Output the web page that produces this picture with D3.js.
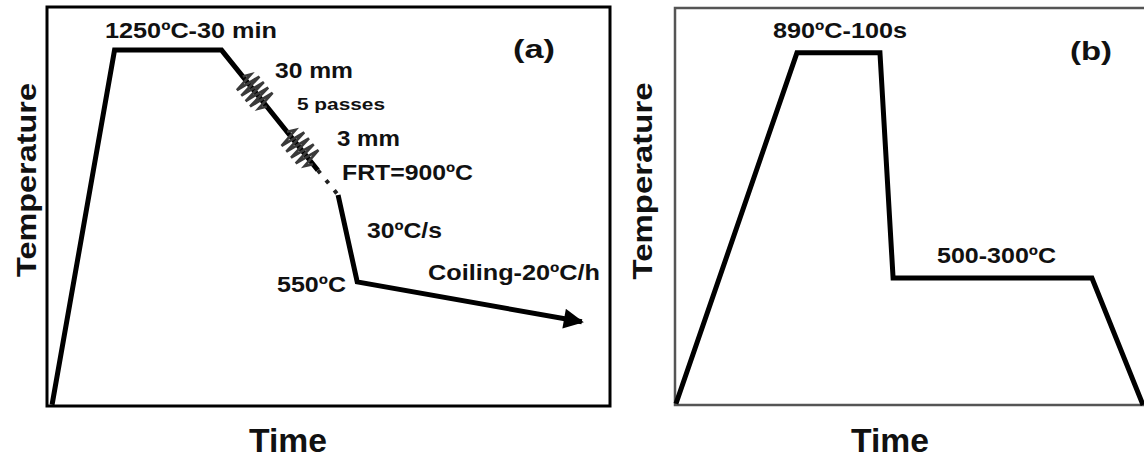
<!DOCTYPE html>
<html>
<head>
<meta charset="utf-8">
<script src="https://cdn.jsdelivr.net/npm/d3@7"></script>
<style>
  body { margin: 0; background: #fff; }
  text { font-family: "Liberation Sans", Arial, sans-serif; font-weight: bold; fill: #111; }
</style>
</head>
<body>
<svg id="chart" width="1144" height="459"></svg>
<script>
// schematic values, time and temperature both on a 0-100 scale
var heatTime  = [0.9, 12.0, 31.0, 48.1];
var heatTemp  = [0.3, 89.2, 89.2, 59.1];
var gapTime   = [48.1, 51.7];
var gapTemp   = [59.1, 52.9];
var coolTime  = [51.7, 55.1, 95.0];
var coolTemp  = [52.9, 31.1, 21.1];
var passes    = [[0.22, 0.47], [0.68, 0.95]];   // roughing / finishing blocks along the rolling line

var cycleTime = [0.2, 26.0, 43.7, 46.5, 88.9, 99.8];
var cycleTemp = [0.3, 88.7, 88.7, 32.0, 32.0, 0];

var labelsA = ["1250ºC-30 min", "30 mm", "5 passes", "3 mm", "FRT=900ºC", "30ºC/s", "550ºC", "Coiling-20ºC/h", "(a)"];
var labelsB = ["890ºC-100s", "500-300ºC", "(b)"];

var svg = d3.select("#chart");

svg.append("defs").append("marker")
    .attr("id", "arrow")
    .attr("viewBox", "0 0 10 10")
    .attr("refX", 9).attr("refY", 5)
    .attr("markerWidth", 4.2).attr("markerHeight", 4)
    .attr("orient", "auto")
    .attr("markerUnits", "strokeWidth")
    .append("path")
    .attr("d", "M0,0 L10,5 L0,10 z")
    .attr("fill", "#000");

// ---- panel (a)
var xA = d3.scaleLinear().domain([0, 100]).range([47, 610]);
var yA = d3.scaleLinear().domain([0, 100]).range([406, 7]);

svg.append("rect")
    .attr("x", xA(0)).attr("y", yA(100))
    .attr("width", xA(100) - xA(0)).attr("height", yA(0) - yA(100))
    .attr("fill", "none").attr("stroke", "#000").attr("stroke-width", 3);

var lineA = d3.line().x(function (d) { return xA(d[0]); }).y(function (d) { return yA(d[1]); });

svg.append("path")
    .datum(d3.zip(heatTime, heatTemp))
    .attr("d", lineA)
    .attr("fill", "none").attr("stroke", "#000").attr("stroke-width", 5)
    .attr("stroke-linejoin", "miter");

svg.append("path")
    .datum(d3.zip(gapTime, gapTemp))
    .attr("d", lineA)
    .attr("fill", "none").attr("stroke", "#222").attr("stroke-width", 4)
    .attr("stroke-dasharray", "4,9");

svg.append("path")
    .datum(d3.zip(coolTime, coolTemp))
    .attr("d", lineA)
    .attr("fill", "none").attr("stroke", "#000").attr("stroke-width", 5)
    .attr("stroke-linejoin", "miter")
    .attr("marker-end", "url(#arrow)");

// zigzag springs for the rolling passes
var p0 = [xA(heatTime[2]), yA(heatTemp[2])],
    p1 = [xA(heatTime[3]), yA(heatTemp[3])];
var dx = p1[0] - p0[0], dy = p1[1] - p0[1], len = Math.sqrt(dx * dx + dy * dy);
var ux = dx / len, uy = dy / len, nx = uy, ny = -ux;

passes.forEach(function (ps) {
    var teeth = 11, amp = 13, pts = [];
    for (var i = 0; i <= teeth; i++) {
        var f = ps[0] + (ps[1] - ps[0]) * i / teeth;
        var a = (i == 0 || i == teeth) ? 0 : (i % 2 ? amp : -amp);
        if (i == 1 || i == teeth - 1) a = a * 0.6;
        pts.push([p0[0] + dx * f + nx * a, p0[1] + dy * f + ny * a]);
    }
    svg.append("path")
        .attr("d", d3.line()(pts))
        .attr("fill", "none").attr("stroke", "#3a3a3a").attr("stroke-width", 2.6)
        .attr("stroke-linejoin", "miter");
});

var posA = [
    [105, 38, 22, 172], [275, 78, 22, 78], [297, 110, 16, 88], [337, 146, 22, 63],
    [342, 180, 22, 131], [367, 238, 22, 75], [277, 292, 22, 69], [428, 280, 22, 172], [513, 58, 26, 42]
];
svg.append("g").selectAll("text")
    .data(labelsA)
    .enter().append("text")
    .attr("x", function (d, i) { return posA[i][0]; })
    .attr("y", function (d, i) { return posA[i][1]; })
    .attr("font-size", function (d, i) { return posA[i][2]; })
    .attr("textLength", function (d, i) { return posA[i][3]; })
    .attr("lengthAdjust", "spacingAndGlyphs")
    .text(function (d) { return d; });

// ---- panel (b)
var xB = d3.scaleLinear().domain([0, 100]).range([675, 1144]);
var yB = d3.scaleLinear().domain([0, 100]).range([405, 8]);

svg.append("rect")
    .attr("x", xB(0)).attr("y", yB(100))
    .attr("width", xB(100) - xB(0) + 20).attr("height", yB(0) - yB(100))
    .attr("fill", "none").attr("stroke", "#555").attr("stroke-width", 2.5);

var lineB = d3.line().x(function (d) { return xB(d[0]); }).y(function (d) { return yB(d[1]); });

svg.append("path")
    .datum(d3.zip(cycleTime, cycleTemp))
    .attr("d", lineB)
    .attr("fill", "none").attr("stroke", "#000").attr("stroke-width", 5)
    .attr("stroke-linejoin", "miter");

var posB = [[773, 38, 22, 134], [937, 263, 22, 119], [1070, 60, 26, 42]];
svg.append("g").selectAll("text")
    .data(labelsB)
    .enter().append("text")
    .attr("x", function (d, i) { return posB[i][0]; })
    .attr("y", function (d, i) { return posB[i][1]; })
    .attr("font-size", function (d, i) { return posB[i][2]; })
    .attr("textLength", function (d, i) { return posB[i][3]; })
    .attr("lengthAdjust", "spacingAndGlyphs")
    .text(function (d) { return d; });

// ---- axis titles
[[36, 180, 194], [652, 181, 197]].forEach(function (p) {
    svg.append("text")
        .attr("transform", "translate(" + p[0] + "," + p[1] + ") rotate(-90)")
        .attr("text-anchor", "middle")
        .attr("font-size", 28)
        .attr("textLength", p[2])
        .attr("lengthAdjust", "spacingAndGlyphs")
        .text("Temperature");
});
[288, 890].forEach(function (cx) {
    svg.append("text")
        .attr("x", cx).attr("y", 452)
        .attr("text-anchor", "middle")
        .attr("font-size", 33)
        .attr("textLength", 78)
        .attr("lengthAdjust", "spacingAndGlyphs")
        .text("Time");
});
</script>
</body>
</html>
